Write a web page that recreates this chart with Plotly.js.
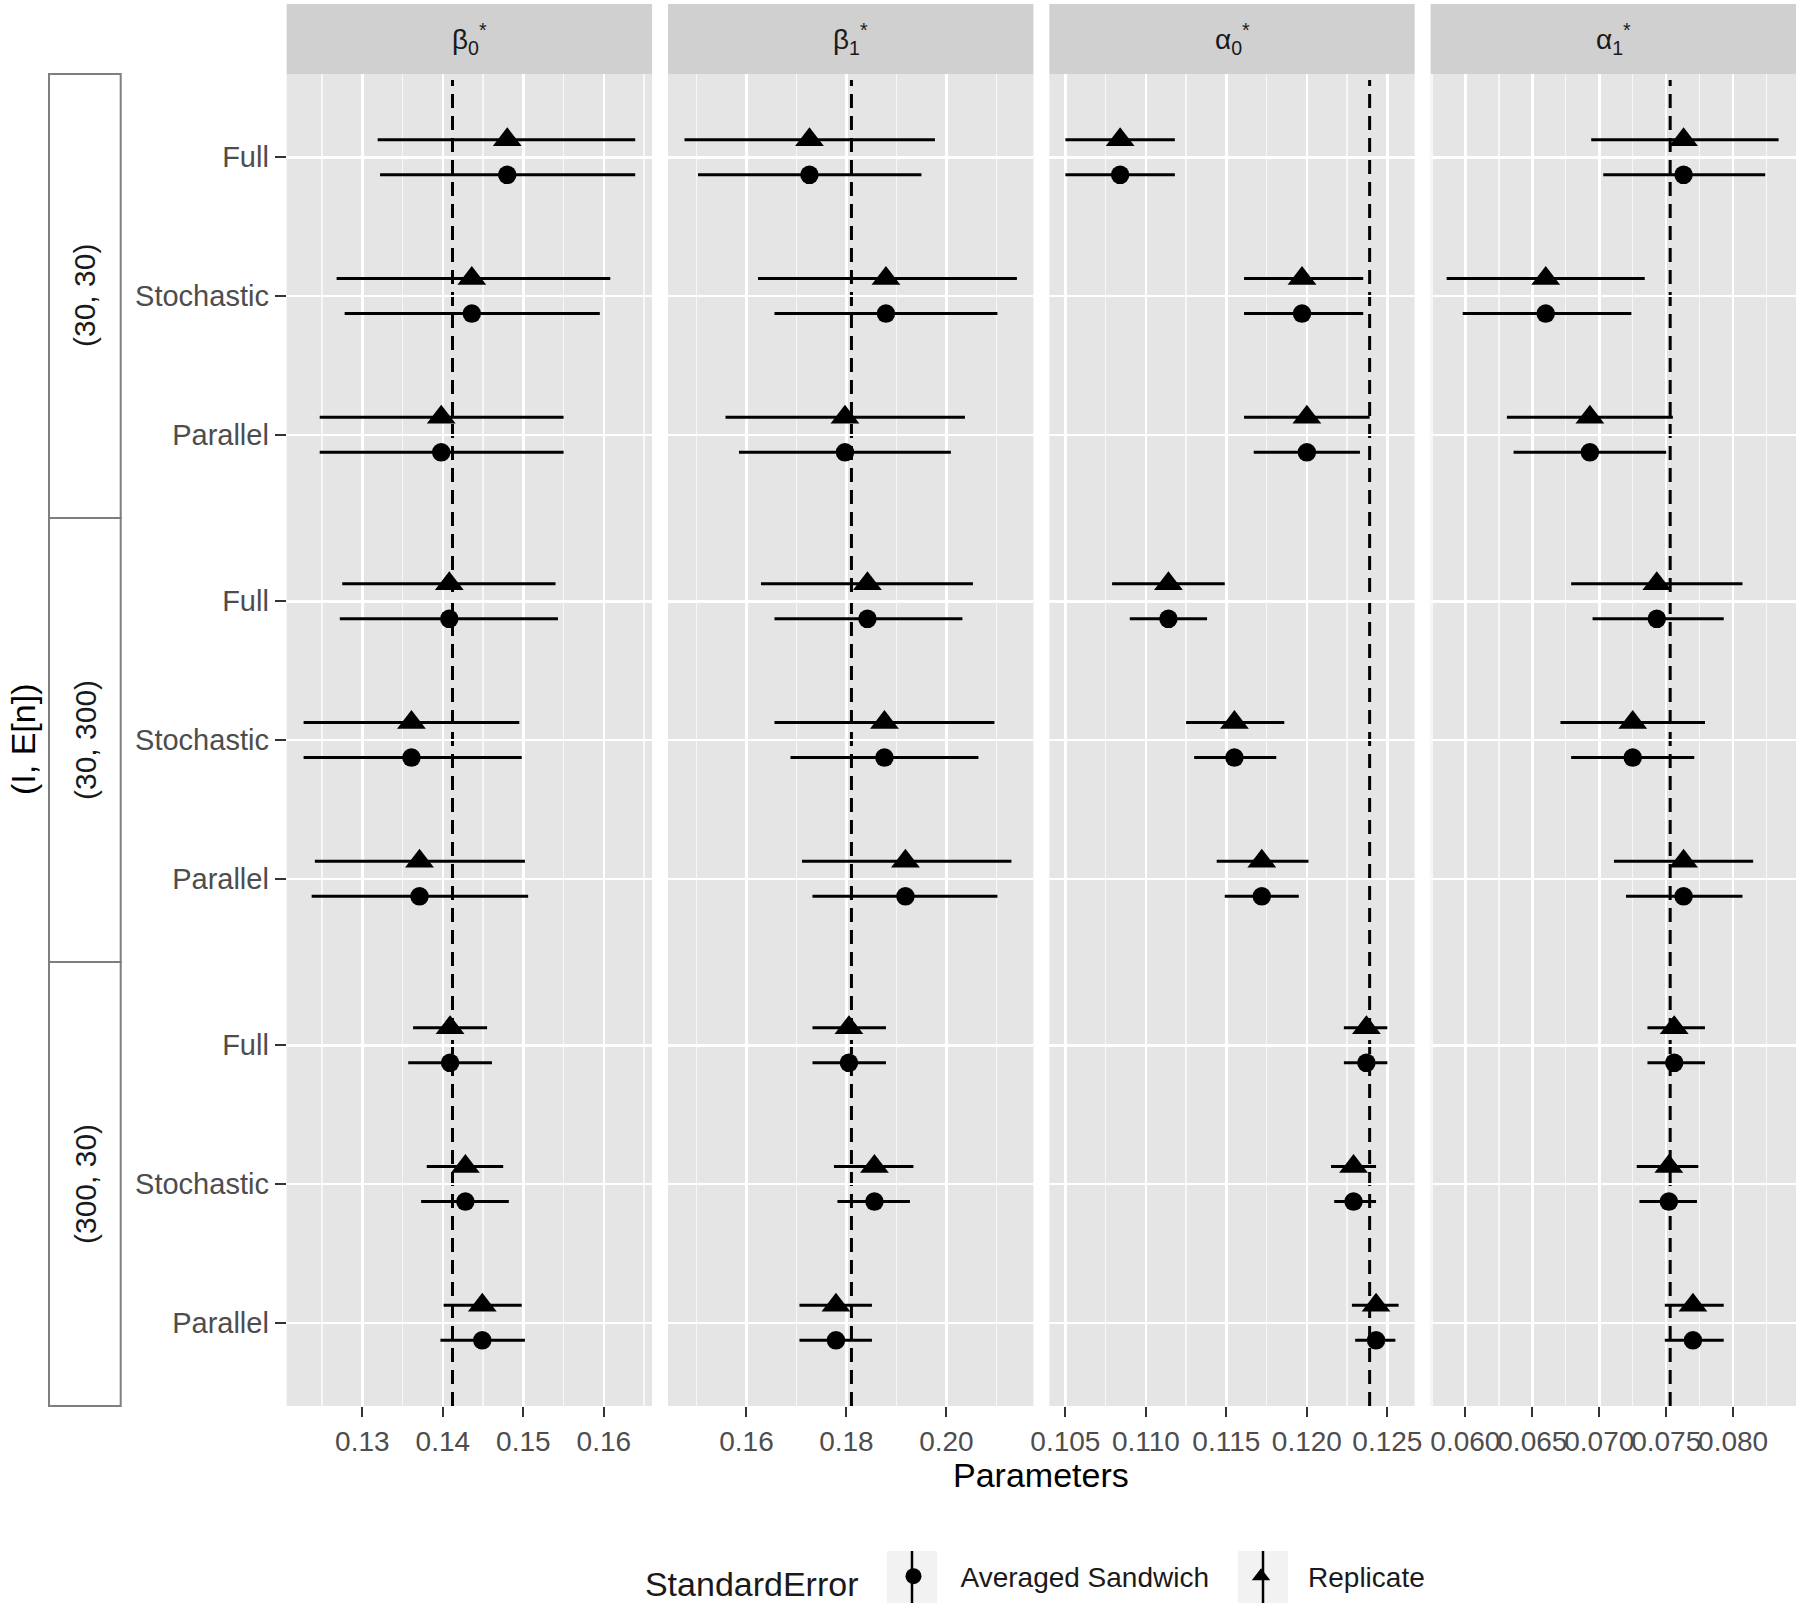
<!DOCTYPE html>
<html><head><meta charset="utf-8">
<script src="https://cdn.plot.ly/plotly-3.0.1.min.js"></script>
<style>html,body{margin:0;padding:0;background:#fff}</style>
</head><body><div id="chart" style="width:1800px;height:1610px"></div>
<script>
// ---------- data ----------
const parameterLabels = ['β<sub>0</sub><sup>*</sup>', 'β<sub>1</sub><sup>*</sup>', 'α<sub>0</sub><sup>*</sup>', 'α<sub>1</sub><sup>*</sup>'];
const designLabels = ['(30, 30)', '(30, 300)', '(300, 30)'];
const methodLabels = ['Full', 'Stochastic', 'Parallel'];
const seriesNames = ['Averaged Sandwich', 'Replicate'];
const trueValues = [0.1412, 0.1810, 0.1239, 0.0753];

// order of 9 values: (30,30) Full/Stochastic/Parallel, (30,300) ..., (300,30) ...
const beta0Estimate = [0.1480, 0.1436, 0.1398, 0.1408, 0.1361, 0.1371, 0.1409, 0.1428, 0.1449];
const beta0ReplicateLow = [0.1319, 0.1268, 0.1247, 0.1275, 0.1227, 0.1241, 0.1363, 0.1380, 0.1401];
const beta0ReplicateHigh = [0.1639, 0.1608, 0.1550, 0.1540, 0.1495, 0.1502, 0.1455, 0.1475, 0.1498];
const beta0SandwichLow = [0.1322, 0.1278, 0.1247, 0.1272, 0.1227, 0.1237, 0.1357, 0.1373, 0.1397];
const beta0SandwichHigh = [0.1639, 0.1595, 0.1550, 0.1543, 0.1498, 0.1506, 0.1461, 0.1482, 0.1502];

const beta1Estimate = [0.1726, 0.1879, 0.1797, 0.1842, 0.1876, 0.1918, 0.1805, 0.1856, 0.1779];
const beta1ReplicateLow = [0.1476, 0.1623, 0.1558, 0.1629, 0.1656, 0.1711, 0.1732, 0.1775, 0.1706];
const beta1ReplicateHigh = [0.1977, 0.2141, 0.2037, 0.2053, 0.2096, 0.2130, 0.1879, 0.1934, 0.1851];
const beta1SandwichLow = [0.1503, 0.1656, 0.1585, 0.1656, 0.1688, 0.1732, 0.1732, 0.1782, 0.1706];
const beta1SandwichHigh = [0.1950, 0.2102, 0.2009, 0.2032, 0.2064, 0.2102, 0.1879, 0.1927, 0.1851];

const alpha0Estimate = [0.1084, 0.1197, 0.1200, 0.1114, 0.1155, 0.1172, 0.1237, 0.1229, 0.1243];
const alpha0ReplicateLow = [0.1050, 0.1161, 0.1161, 0.1079, 0.1125, 0.1144, 0.1223, 0.1215, 0.1228];
const alpha0ReplicateHigh = [0.1118, 0.1235, 0.1239, 0.1149, 0.1186, 0.1201, 0.1250, 0.1243, 0.1257];
const alpha0SandwichLow = [0.1050, 0.1161, 0.1167, 0.1090, 0.1130, 0.1149, 0.1223, 0.1217, 0.1230];
const alpha0SandwichHigh = [0.1118, 0.1235, 0.1233, 0.1138, 0.1181, 0.1195, 0.1250, 0.1243, 0.1255];

const alpha1Estimate = [0.0763, 0.0660, 0.0693, 0.0743, 0.0725, 0.0763, 0.0756, 0.0752, 0.0770];
const alpha1ReplicateLow = [0.0694, 0.0586, 0.0631, 0.0679, 0.0671, 0.0711, 0.0736, 0.0728, 0.0749];
const alpha1ReplicateHigh = [0.0834, 0.0734, 0.0755, 0.0807, 0.0779, 0.0815, 0.0779, 0.0774, 0.0793];
const alpha1SandwichLow = [0.0703, 0.0598, 0.0636, 0.0695, 0.0679, 0.0720, 0.0736, 0.0730, 0.0749];
const alpha1SandwichHigh = [0.0824, 0.0724, 0.0750, 0.0793, 0.0771, 0.0807, 0.0779, 0.0773, 0.0793];

const xTickStep = [0.01, 0.02, 0.005, 0.005];
const xTickFormat = ['.2f', '.2f', '.3f', '.3f'];
const xRange = [[0.1206, 0.1660], [0.1443, 0.2174], [0.1040, 0.1267], [0.0574, 0.0847]];

// ---------- build ----------
const columns = [
  {est: beta0Estimate, rep: [beta0ReplicateLow, beta0ReplicateHigh], sw: [beta0SandwichLow, beta0SandwichHigh]},
  {est: beta1Estimate, rep: [beta1ReplicateLow, beta1ReplicateHigh], sw: [beta1SandwichLow, beta1SandwichHigh]},
  {est: alpha0Estimate, rep: [alpha0ReplicateLow, alpha0ReplicateHigh], sw: [alpha0SandwichLow, alpha0SandwichHigh]},
  {est: alpha1Estimate, rep: [alpha1ReplicateLow, alpha1ReplicateHigh], sw: [alpha1SandwichLow, alpha1SandwichHigh]}
];

const W = 1800, H = 1610;
const FONT = 'Liberation Sans, Arial, Helvetica, sans-serif';
const panelW = 365.4, panelGap = 15.9, panelLeft0 = 286.7;
const plotTop = 74, rowH = 444;
const dodge = 0.127;
const px = v => v / W;
const py = v => 1 - v / H;

const traces = [];
columns.forEach((col, c) => {
  designLabels.forEach((dl, d) => {
    const idx = methodLabels.map((m, k) => d * 3 + k);
    const est = idx.map(i => col.est[i]);
    const series = [
      {name: seriesNames[0], lo: col.sw[0], hi: col.sw[1], symbol: 'circle', size: 18.5, off: dodge},
      {name: seriesNames[1], lo: col.rep[0], hi: col.rep[1], symbol: 'triangle-up', size: 25, off: -dodge}
    ];
    series.forEach((s, si) => {
      traces.push({
        type: 'scatter', mode: 'markers',
        x: est,
        y: methodLabels.map((m, k) => k + s.off),
        xaxis: c === 0 ? 'x' : 'x' + (c + 1),
        yaxis: d === 0 ? 'y' : 'y' + (d + 1),
        name: s.name, legendgroup: s.name,
        showlegend: c === 0 && d === 0,
        legendrank: si + 1,
        marker: {symbol: s.symbol, size: s.size, color: '#000000', line: {width: 0}},
        error_x: {
          type: 'data', symmetric: false,
          array: idx.map(i => s.hi[i] - col.est[i]),
          arrayminus: idx.map(i => col.est[i] - s.lo[i]),
          color: '#000000', thickness: 3, width: 0
        },
        hoverinfo: 'skip'
      });
    });
  });
});

const legendCenterY = 1579;
const layout = {
  width: W, height: H,
  margin: {l: 0, r: 0, t: 0, b: 0},
  paper_bgcolor: '#FFFFFF',
  plot_bgcolor: '#E5E5E5',
  font: {family: FONT, color: '#1A1A1A'},
  showlegend: true,
  legend: {
    orientation: 'h', x: 0.5758, xanchor: 'center', y: py(legendCenterY), yanchor: 'middle',
    font: {size: 28, color: '#1A1A1A', family: FONT},
    title: {text: 'StandardError', side: 'left', font: {size: 34, color: '#1A1A1A', family: FONT}},
    itemwidth: 84, bgcolor: 'rgba(0,0,0,0)', traceorder: 'normal'
  },
  shapes: [], annotations: []
};

for (let c = 0; c < 4; c++) {
  const L = panelLeft0 + c * (panelW + panelGap), R = L + panelW;
  const key = c === 0 ? 'xaxis' : 'xaxis' + (c + 1);
  layout[key] = {
    domain: [px(L), px(R)], range: xRange[c], anchor: 'y3',
    tick0: 0, dtick: xTickStep[c], tickformat: xTickFormat[c], tickangle: 0,
    showgrid: true, gridcolor: '#FFFFFF', gridwidth: 2.5,
    minor: {dtick: xTickStep[c] / 2, showgrid: true, gridcolor: '#F7F7F7', gridwidth: 1.3, ticks: ''},
    ticks: 'outside', ticklen: 10, tickwidth: 2, tickcolor: '#333333',
    tickfont: {size: 28, color: '#4D4D4D', family: FONT},
    zeroline: false, showline: false, fixedrange: true
  };
  // strip header
  layout.shapes.push({type: 'rect', xref: 'paper', yref: 'paper', x0: px(L), x1: px(R), y0: py(plotTop), y1: py(4),
    fillcolor: '#D0D0D0', line: {width: 0}, layer: 'below'});
  layout.annotations.push({xref: 'paper', yref: 'paper', x: px((L + R) / 2), y: py(39), text: parameterLabels[c],
    showarrow: false, xanchor: 'center', yanchor: 'middle', font: {size: 28, color: '#1A1A1A', family: FONT}});
  // true value dashed line
  layout.shapes.push({type: 'line', xref: c === 0 ? 'x' : 'x' + (c + 1), yref: 'paper',
    x0: trueValues[c], x1: trueValues[c], y0: py(plotTop + 3 * rowH), y1: py(plotTop + 6),
    line: {color: '#000000', width: 3, dash: '14px,8px'}, layer: 'between'});
}

for (let d = 0; d < 3; d++) {
  const T = plotTop + d * rowH, B = T + rowH;
  const key = d === 0 ? 'yaxis' : 'yaxis' + (d + 1);
  layout[key] = {
    domain: [py(B), py(T)], range: [2.6, -0.6], anchor: 'x',
    tickvals: [0, 1, 2], ticktext: methodLabels,
    showgrid: true, gridcolor: '#FFFFFF', gridwidth: 2.5,
    ticks: 'outside', ticklen: 11, tickwidth: 2, tickcolor: '#333333',
    tickfont: {size: 29, color: '#4D4D4D', family: FONT},
    zeroline: false, showline: false, fixedrange: true
  };
  layout.shapes.push({type: 'rect', xref: 'paper', yref: 'paper', x0: px(49), x1: px(120.7), y0: py(B), y1: py(T),
    fillcolor: '#FFFFFF', line: {color: '#7F7F7F', width: 2}, layer: 'below'});
  layout.annotations.push({xref: 'paper', yref: 'paper', x: px(85), y: py((T + B) / 2), text: designLabels[d],
    textangle: -90, showarrow: false, xanchor: 'center', yanchor: 'middle', font: {size: 30, color: '#1A1A1A', family: FONT}});
}

layout.annotations.push({xref: 'paper', yref: 'paper', x: px(23), y: py(740), text: '(I, E[n])', textangle: -90,
  showarrow: false, xanchor: 'center', yanchor: 'middle', font: {size: 34, color: '#000000', family: FONT}});
layout.annotations.push({xref: 'paper', yref: 'paper', x: px(1041), y: py(1475), text: 'Parameters',
  showarrow: false, xanchor: 'center', yanchor: 'middle', font: {size: 34, color: '#000000', family: FONT}});

// legend key backgrounds (grey95 squares with vertical line)
[912, 1263].forEach(cx => {
  layout.shapes.push({type: 'rect', xref: 'paper', yref: 'paper', x0: px(cx - 25), x1: px(cx + 25), y0: py(1603), y1: py(1551),
    fillcolor: '#F2F2F2', line: {width: 0}, layer: 'below'});
  layout.shapes.push({type: 'line', xref: 'paper', yref: 'paper', x0: px(cx), x1: px(cx), y0: py(1603), y1: py(1551),
    line: {color: '#000000', width: 2.5}, layer: 'below'});
});

Plotly.newPlot('chart', traces, layout, {displayModeBar: false, staticPlot: true});
</script></body></html>
